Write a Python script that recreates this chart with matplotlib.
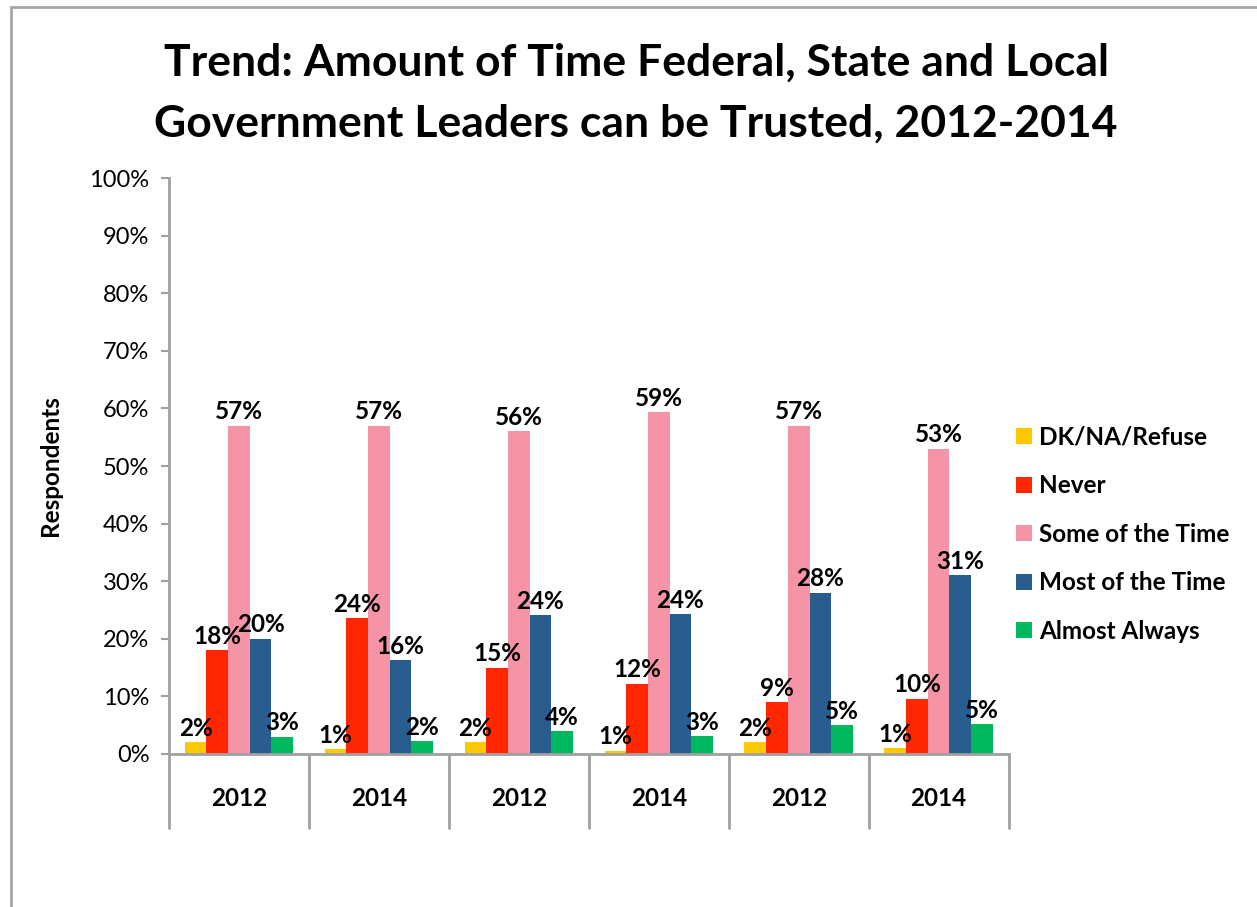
"""
Grouped bar chart: trust in federal, state and local government leaders, 2012-2014.
"""

import numpy as np
import matplotlib.pyplot as plt
from matplotlib.patches import Rectangle

years = ["2012", "2014", "2012", "2014", "2012", "2014"]
series = ["DK/NA/Refuse", "Never", "Some of the Time", "Most of the Time", "Almost Always"]

dk_na = [2.0, 0.9, 2.0, 0.6, 2.0, 1.0]
never = [18.0, 23.6, 15.0, 12.2, 9.0, 9.6]
some_time = [57.0, 57.0, 56.0, 59.4, 57.0, 53.0]
most_time = [20.0, 16.3, 24.1, 24.3, 28.0, 31.1]
almost_always = [3.0, 2.2, 4.0, 3.1, 5.0, 5.2]

colors = ["#FFC800", "#FF2600", "#F593A7", "#2A5D8F", "#00B85E"]
values = [dk_na, never, some_time, most_time, almost_always]

plt.rcParams["font.family"] = ["Lato", "DejaVu Sans"]

fig = plt.figure(figsize=(12.57, 9.07), dpi=100)
ax = fig.add_axes([0.1344, 0.1687, 0.668, 0.635])

n_groups = len(years)
bar_w = 0.155
x = np.arange(n_groups) + 0.5
offsets = (np.arange(len(series)) - 2) * bar_w

for vals, off, col, name in zip(values, offsets, colors, series):
    bars = ax.bar(x + off, vals, width=bar_w, color=col, label=name, zorder=2)
    for b, v in zip(bars, vals):
        ax.text(b.get_x() + b.get_width() / 2, v + 0.4, f"{round(v):d}%",
                ha="center", va="bottom", fontsize=17.5, fontweight="bold")

ax.set_xlim(0, n_groups)
ax.set_ylim(0, 100)
ax.set_yticks(np.arange(0, 101, 10))
ax.set_yticklabels([f"{t}%" for t in range(0, 101, 10)], fontsize=17)
ax.tick_params(axis="y", direction="out", length=6, width=1.5, color="#a0a0a0", pad=8)

# group separators as long ticks, labels on minor ticks
ax.set_xticks(np.arange(n_groups + 1))
ax.set_xticklabels([])
ax.tick_params(axis="x", which="major", direction="out", length=54, width=2, color="#a0a0a0")
ax.set_xticks(x, minor=True)
ax.set_xticklabels(years, minor=True, fontsize=17.5, fontweight="bold")
ax.tick_params(axis="x", which="minor", length=0, pad=24)

for s in ["top", "right"]:
    ax.spines[s].set_visible(False)
for s in ["left", "bottom"]:
    ax.spines[s].set_color("#a0a0a0")
    ax.spines[s].set_linewidth(2)

ax.set_ylabel("Respondents", fontsize=17.5, fontweight="bold", labelpad=20)

fig.text(0.506, 0.8975, "Trend: Amount of Time Federal, State and Local\nGovernment Leaders can be Trusted, 2012-2014",
         ha="center", va="center", fontsize=32, fontweight="bold", linespacing=1.64)

ax.legend(loc="upper left", bbox_to_anchor=(0.983, 0.608), frameon=False,
          prop={"size": 17.5, "weight": "bold"}, handlelength=0.65, handleheight=0.65,
          handletextpad=0.3, labelspacing=1.05)

fig.patches.append(Rectangle((11 / 1257, -0.1), 1.2, 1.1 - 7 / 907, transform=fig.transFigure,
                             fill=False, edgecolor="#a6a6a6", linewidth=2))

fig.savefig("out.png", dpi=100)
